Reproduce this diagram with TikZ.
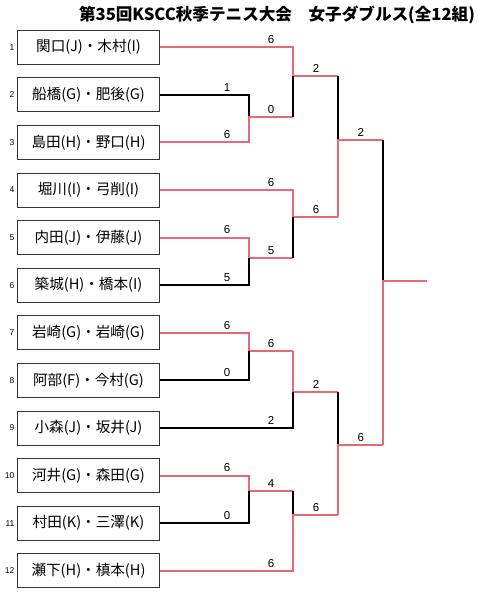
\documentclass[tikz,border=0pt]{standalone}
\usepackage{fontspec}
\setmainfont{Noto Sans CJK JP}
\newfontfamily\digitfont{Liberation Sans}
\usetikzlibrary{positioning}
\definecolor{winred}{RGB}{230,105,118}

\begin{document}
\begin{tikzpicture}[
    x=1pt, y=-1pt,
    node distance=12.8pt and 2.5pt,
    team/.style={draw=black!80, line width=0.8pt, minimum width=142pt,
                 minimum height=34pt, inner sep=0pt,
                 font=\fontsize{14.6}{15}\selectfont},
    idx/.style={font=\digitfont\fontsize{8.5}{9}\selectfont, inner sep=0pt},
    score/.style={font=\digitfont\fontsize{11.5}{12}\selectfont, anchor=south,
                  xshift=-22pt, yshift=2.5pt, inner sep=0pt},
    win/.style={draw=winred, line width=2pt},
    lose/.style={draw=black, line width=2pt},
  ]
    \useasboundingbox (0,0) rectangle (480,598);

    \node[font=\bfseries\fontsize{16.6}{17}\selectfont] (title) at (277,15)
      {第35回KSCC秋季テニス大会\quad 女子ダブルス(全12組)};

    % teams
    \node[team] (p1) at (88.5,47.2) {関口(J)・木村(I)};
    \node[team, below=of p1] (p2) {船橋(G)・肥後(G)};
    \node[team, below=of p2] (p3) {島田(H)・野口(H)};
    \node[team, below=of p3] (p4) {堀川(I)・弓削(I)};
    \node[team, below=of p4] (p5) {内田(J)・伊藤(J)};
    \node[team, below=of p5] (p6) {築城(H)・橋本(I)};
    \node[team, below=of p6] (p7) {岩崎(G)・岩崎(G)};
    \node[team, below=of p7] (p8) {阿部(F)・今村(G)};
    \node[team, below=of p8] (p9) {小森(J)・坂井(J)};
    \node[team, below=of p9] (p10) {河井(G)・森田(G)};
    \node[team, below=of p10] (p11) {村田(K)・三澤(K)};
    \node[team, below=of p11] (p12) {瀬下(H)・槙本(H)};

    \node[idx, left=of p1] (n1) {1};
    \node[idx, left=of p2] (n2) {2};
    \node[idx, left=of p3] (n3) {3};
    \node[idx, left=of p4] (n4) {4};
    \node[idx, left=of p5] (n5) {5};
    \node[idx, left=of p6] (n6) {6};
    \node[idx, left=of p7] (n7) {7};
    \node[idx, left=of p8] (n8) {8};
    \node[idx, left=of p9] (n9) {9};
    \node[idx, left=of p10] (n10) {10};
    \node[idx, left=of p11] (n11) {11};
    \node[idx, left=of p12] (n12) {12};

    % bracket columns
    \coordinate (xa) at (249,0);
    \coordinate (xb) at (293,0);
    \coordinate (xc) at (338,0);
    \coordinate (xd) at (382.7,0);

    \coordinate (c1) at (p1.east -| xb);
    \coordinate (c2) at (p2.east -| xa);
    \coordinate (c3) at (p3.east -| xa);
    \coordinate (c4) at (p4.east -| xb);
    \coordinate (c5) at (p5.east -| xa);
    \coordinate (c6) at (p6.east -| xa);
    \coordinate (c7) at (p7.east -| xa);
    \coordinate (c8) at (p8.east -| xa);
    \coordinate (c9) at (p9.east -| xb);
    \coordinate (c10) at (p10.east -| xa);
    \coordinate (c11) at (p11.east -| xa);
    \coordinate (c12) at (p12.east -| xb);

    % junctions
    \coordinate (m23) at (249,117.3);   \coordinate (q23) at (293,117.3);
    \coordinate (m1) at (293,75.7);     \coordinate (s1) at (338,75.7);
    \coordinate (m56) at (249,257.7);   \coordinate (q56) at (293,257.7);
    \coordinate (m4) at (293,216.7);    \coordinate (s4) at (338,216.7);
    \coordinate (mt) at (338,140);      \coordinate (u1) at (382.7,140);
    \coordinate (m78) at (249,351);     \coordinate (q78) at (293,351);
    \coordinate (m9) at (293,391.7);    \coordinate (s9) at (338,391.7);
    \coordinate (m1011) at (249,491.3); \coordinate (q1011) at (293,491.3);
    \coordinate (m12) at (293,515);     \coordinate (s12) at (338,515);
    \coordinate (mb) at (338,445);      \coordinate (u2) at (382.7,445);
    \coordinate (mf) at (382.7,280.7);  \coordinate (fin) at (426.7,280.7);

    % top half
    \draw[win] (p1.east) -- (c1) node[score] {6} -- (m1) -- (s1) node[score] {2};
    \draw[lose] (p2.east) -- (c2) node[score] {1} -- (m23);
    \draw[win] (p3.east) -- (c3) node[score] {6} -- (m23) -- (q23) node[score] {0};
    \draw[lose] (q23) -- (m1);
    \draw[win] (p4.east) -- (c4) node[score] {6} -- (m4) -- (s4) node[score] {6};
    \draw[win] (p5.east) -- (c5) node[score] {6} -- (m56) -- (q56) node[score] {5};
    \draw[lose] (p6.east) -- (c6) node[score] {5} -- (m56);
    \draw[lose] (q56) -- (m4);
    \draw[lose] (s1) -- (mt);
    \draw[win] (s4) -- (mt) -- (u1) node[score] {2};
    \draw[lose] (u1) -- (mf);

    % bottom half
    \draw[win] (p7.east) -- (c7) node[score] {6} -- (m78) -- (q78) node[score] {6};
    \draw[lose] (p8.east) -- (c8) node[score] {0} -- (m78);
    \draw[win] (q78) -- (m9) -- (s9) node[score] {2};
    \draw[lose] (p9.east) -- (c9) node[score] {2} -- (m9);
    \draw[win] (p10.east) -- (c10) node[score] {6} -- (m1011) -- (q1011) node[score] {4};
    \draw[lose] (p11.east) -- (c11) node[score] {0} -- (m1011);
    \draw[lose] (q1011) -- (m12);
    \draw[win] (p12.east) -- (c12) node[score] {6} -- (m12) -- (s12) node[score] {6};
    \draw[lose] (s9) -- (mb);
    \draw[win] (s12) -- (mb) -- (u2) node[score] {6};

    % final
    \draw[win] (u2) -- (mf) -- (fin);
\end{tikzpicture}
\end{document}
